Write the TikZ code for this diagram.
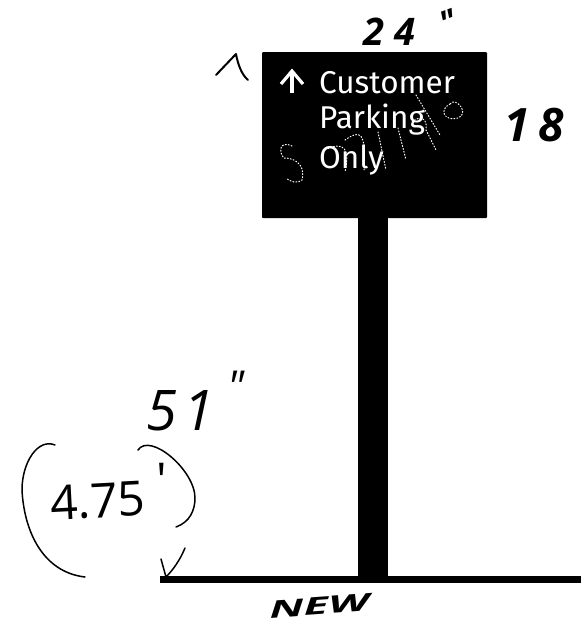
\documentclass[tikz,border=0pt]{standalone}
\usepackage{fontspec}
\setmainfont{Lato}
\newfontfamily\signfont{Fira Sans}
\newfontfamily\handfont{Open Sans}
\begin{document}
\begin{tikzpicture}[x=1pt,y=-1pt,
  signtext/.style={anchor=base west,inner sep=0pt,text=white,font=\signfont\fontsize{31.5}{31.5}\selectfont},
  hand/.style={anchor=center,inner sep=0pt,text=black},
  pen/.style={draw=black,line width=1.5pt,line cap=round,line join=round},
  speck/.style={draw=white,line width=1pt,dash pattern=on 1pt off 2pt,line cap=round}]
\useasboundingbox (0,0) rectangle (581,625);
\fill[white] (0,0) rectangle (581,625);
% ground and pole
\fill[black] (160,576) rectangle (581,583);
\fill[black] (358,210) rectangle (388,583);
% sign
\fill[black,rounded corners=1pt] (262,52) rectangle (487,218);
\coordinate (arrowtip) at (292,71);
\coordinate (arrowfoot) at (292,93);
\draw[white,line width=3.2pt] (arrowfoot) -- (arrowtip);
\draw[white,line width=3.2pt,line join=miter] (281,84) -- (arrowtip) -- (303,84);
\node[signtext] (customer) at (319,93) {Customer};
\node[signtext] (parking) at (319,128) {Parking};
\node[signtext] (only) at (319,168) {Only};
% watermark speckle
\draw[speck] (292,146) .. controls (280,140) and (278,152) .. (284,158) .. controls (300,158) and (305,170) .. (302,180) .. controls (298,184) and (290,182) .. (286,178);
\draw[speck] (325,150) .. controls (345,140) and (350,150) .. (345,172);
\draw[speck] (345,140) .. controls (360,130) and (366,130) .. (364,170);
\draw[speck] (378,132) -- (386,170);
\draw[speck] (398,128) -- (406,160);
\draw[speck] (412,122) .. controls (420,115) and (428,118) .. (426,130) -- (436,150);
\draw[speck] (416,95) -- (440,135);
\draw[speck] (450,104) .. controls (438,110) and (445,122) .. (458,118) .. controls (470,114) and (456,96) .. (450,104);
% handwritten labels
\node[hand,font=\handfont\itshape\bfseries\fontsize{38}{38}\selectfont] (w) at (389,32) {2\kern10pt 4};
\node[hand,rotate=20,font=\handfont\itshape\bfseries\fontsize{34}{34}\selectfont] (winch) at (449,22) {"};
\node[hand,font=\handfont\itshape\bfseries\fontsize{46}{46}\selectfont] (h) at (534,125) {1\kern9pt 8};
\node[hand,font=\handfont\itshape\fontsize{56}{56}\selectfont] (fiftyone) at (180,411) {5\kern6pt 1};
\node[hand,font=\handfont\itshape\fontsize{44}{44}\selectfont] (inch) at (236,387) {"};
\node[hand,rotate=3,font=\handfont\fontsize{48}{48}\selectfont] (feet) at (98,501) {4.75};
\node[hand,font=\handfont\fontsize{48}{48}\selectfont] (foot) at (162,480) {'};
\node[hand,rotate=4,xscale=1.9,font=\handfont\itshape\bfseries\fontsize{24}{24}\selectfont] (new) at (319,606) {NEW};
% marks
\coordinate (t1) at (216,75);
\coordinate (t2) at (236,54);
\coordinate (t3) at (248,80);
\draw[pen,line width=2pt] (t1) -- (t2) .. controls (238,65) and (242,75) .. (t3);
\coordinate (l1) at (55,445);
\coordinate (l2) at (85,577);
\draw[pen] (l1) .. controls (38,438) and (22,462) .. (22,490) .. controls (24,530) and (42,572) .. (l2);
\coordinate (r1) at (138,450);
\coordinate (r2) at (176,527);
\draw[pen] (r1) .. controls (150,432) and (195,470) .. (195,498) .. controls (195,510) and (190,522) .. (r2);
\coordinate (a1) at (185,548);
\coordinate (a2) at (166,577);
\coordinate (a3) at (161,559);
\draw[pen] (a1) .. controls (180,560) and (173,570) .. (a2) -- (a3);
\end{tikzpicture}
\end{document}
